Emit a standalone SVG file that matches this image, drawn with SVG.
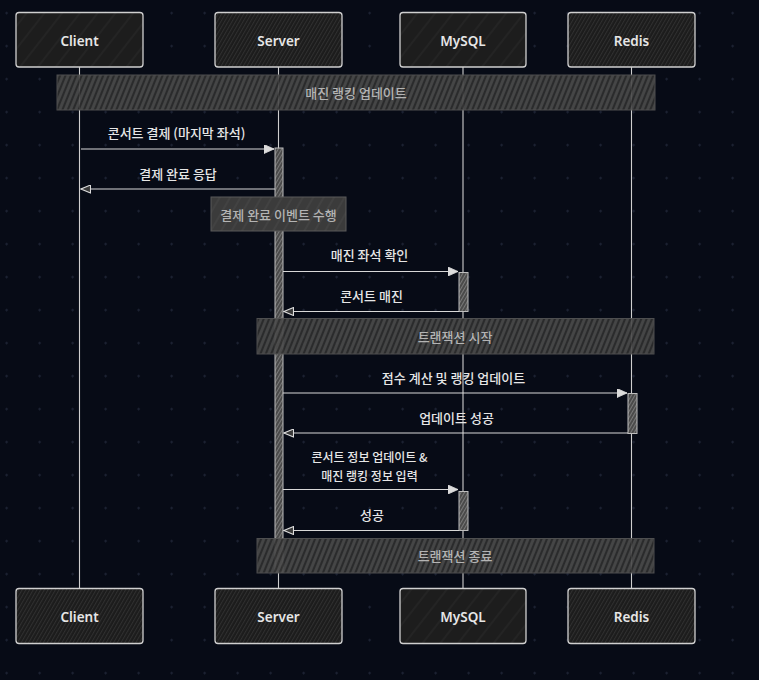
<svg xmlns="http://www.w3.org/2000/svg" width="759" height="680" viewBox="0 0 759 680">
<style>
.actor rect{stroke:#d0d0d0;stroke-width:1.3}
.actor text{font-family:"Noto Sans","Liberation Sans",sans-serif;font-size:13.5px;font-weight:600;fill:#e6e6e6;text-anchor:middle;dominant-baseline:central}
.life{stroke:#cfcfcf;stroke-width:1.1}
.msg{stroke:#d8d8d8;stroke-width:1.2;fill:none}
.mt{font-family:"Noto Sans CJK KR","Noto Sans",sans-serif;font-size:13px;font-weight:500;fill:#e6e6e6;text-anchor:middle;dominant-baseline:central}
.nt{font-family:"Noto Sans CJK KR","Noto Sans",sans-serif;font-size:13px;font-weight:500;fill:#b4b4b4;text-anchor:middle;dominant-baseline:central}
.act{fill:url(#hatchAct);stroke:#bdbdbd;stroke-width:1}
.note{fill:url(#hatchNote);stroke:#555;stroke-width:1;opacity:0.92}
</style>
<defs>
<pattern id="dots" width="33" height="33" patternUnits="userSpaceOnUse" x="-10" y="-3">
<rect x="15.5" y="15" width="2.2" height="2.2" fill="#1b2131" transform="rotate(45 16.6 16.1)"/>
</pattern>
<pattern id="hatchDense" width="3.2" height="10" patternUnits="userSpaceOnUse" patternTransform="rotate(30)">
<rect width="3.2" height="10" fill="#1c1c1c"/>
<line x1="0.5" y1="0" x2="0.5" y2="10" stroke="#303030" stroke-width="1"/>
</pattern>
<pattern id="hatchSparse" width="14" height="10" patternUnits="userSpaceOnUse" patternTransform="rotate(38)">
<rect width="14" height="10" fill="#1d1d1d"/>
<line x1="1" y1="0" x2="1" y2="10" stroke="#2a2a2a" stroke-width="1"/>
</pattern>
<pattern id="hatchNote" width="5" height="10" patternUnits="userSpaceOnUse" patternTransform="rotate(22)">
<rect width="5" height="10" fill="#2e2e2e"/>
<line x1="1.5" y1="0" x2="1.5" y2="10" stroke="#4c4c4c" stroke-width="2.8"/>
</pattern>
<pattern id="hatchNote2" width="9" height="10" patternUnits="userSpaceOnUse" patternTransform="rotate(30)">
<rect width="9" height="10" fill="#3b3b3b"/>
<line x1="1" y1="0" x2="1" y2="10" stroke="#474747" stroke-width="1.2"/>
</pattern>
<pattern id="hatchAct" width="3" height="3" patternUnits="userSpaceOnUse" patternTransform="rotate(30)">
<rect width="3" height="3" fill="#4a4a4a"/>
<line x1="0.5" y1="0" x2="0.5" y2="3" stroke="#7a7a7a" stroke-width="1"/>
</pattern>
<marker id="arrFill" markerWidth="11" markerHeight="9" refX="10" refY="4.5" orient="auto" markerUnits="userSpaceOnUse">
<path d="M0,0 L10,4.5 L0,9 Z" fill="#dcdcdc" stroke="#dcdcdc" stroke-width="0.8"/>
</marker>
<marker id="arrOpen" markerWidth="11" markerHeight="9" refX="10" refY="4.5" orient="auto" markerUnits="userSpaceOnUse">
<path d="M0.5,0.5 L10,4.5 L0.5,8.5 Z" fill="#3a3a3a" stroke="#dcdcdc" stroke-width="1.1"/>
</marker>
</defs>
<rect width="759" height="680" fill="#070b16"/>
<rect width="759" height="680" fill="url(#dots)"/>

<g id="lifelines">
<line class="life" x1="79.5" y1="67" x2="79.5" y2="588"/>
<line class="life" x1="278.5" y1="67" x2="278.5" y2="588"/>
<line class="life" x1="463" y1="67" x2="463" y2="588"/>
<line class="life" x1="631.5" y1="67" x2="631.5" y2="588"/>
</g>

<g id="activations">
<rect class="act" x="275" y="148" width="8" height="424"/>
<rect class="act" x="459" y="272.5" width="9" height="39"/>
<rect class="act" x="628" y="393.5" width="9" height="40"/>
<rect class="act" x="459" y="491.5" width="9" height="39"/>
</g>

<g id="note-ranking">
<rect class="note" x="57" y="75" width="598" height="35"/>
<text class="nt" x="356" y="92.5">매진 랭킹 업데이트</text>
</g>
<g id="note-event">
<rect x="211" y="197" width="135" height="34" fill="url(#hatchNote2)" stroke="#5a5a5a" stroke-width="1"/>
<text class="nt" x="278.5" y="214">결제 완료 이벤트 수행</text>
</g>
<g id="note-tx-start">
<rect class="note" x="257" y="318.5" width="397" height="35.5"/>
<text class="nt" x="455" y="336.5">트랜잭션 시작</text>
</g>
<g id="note-tx-end">
<rect class="note" x="257" y="538.5" width="397" height="34.5"/>
<text class="nt" x="455" y="555.5">트랜잭션 종료</text>
</g>

<g id="connectors">
<line class="msg" x1="81" y1="149" x2="274" y2="149" marker-end="url(#arrFill)"/>
<text class="mt" x="176.5" y="132">콘서트 결제 (마지막 좌석)</text>
<line class="msg" x1="275" y1="189" x2="81" y2="189" marker-end="url(#arrOpen)"/>
<text class="mt" x="178" y="173.5">결제 완료 응답</text>
<line class="msg" x1="283" y1="271.5" x2="458" y2="271.5" marker-end="url(#arrFill)"/>
<text class="mt" x="369.5" y="254.5">매진 좌석 확인</text>
<line class="msg" x1="459" y1="311.5" x2="284" y2="311.5" marker-end="url(#arrOpen)"/>
<text class="mt" x="371.5" y="295.5">콘서트 매진</text>
<line class="msg" x1="283" y1="393" x2="627" y2="393" marker-end="url(#arrFill)"/>
<text class="mt" x="453.5" y="377.5">점수 계산 및 랭킹 업데이트</text>
<line class="msg" x1="628" y1="433" x2="284" y2="433" marker-end="url(#arrOpen)"/>
<text class="mt" x="456.5" y="417.5">업데이트 성공</text>
<line class="msg" x1="283" y1="489.5" x2="458" y2="489.5" marker-end="url(#arrFill)"/>
<text class="mt" x="369.5" y="456.5" style="font-size:12px">콘서트 정보 업데이트 &amp;</text>
<text class="mt" x="369.5" y="475" style="font-size:12px">매진 랭킹 정보 입력</text>
<line class="msg" x1="459" y1="530.5" x2="284" y2="530.5" marker-end="url(#arrOpen)"/>
<text class="mt" x="372" y="514.5">성공</text>
</g>

<g id="actor-client-top" class="actor">
<rect x="16" y="12.5" width="127" height="54.5" rx="3" fill="url(#hatchSparse)"/>
<text x="79.5" y="41">Client</text>
</g>
<g id="actor-server-top" class="actor">
<rect x="215" y="12.5" width="127" height="54.5" rx="3" fill="url(#hatchDense)"/>
<text x="278.5" y="41">Server</text>
</g>
<g id="actor-mysql-top" class="actor">
<rect x="400" y="12.5" width="126" height="54.5" rx="3" fill="url(#hatchSparse)"/>
<text x="463" y="41">MySQL</text>
</g>
<g id="actor-redis-top" class="actor">
<rect x="568" y="12.5" width="127" height="54.5" rx="3" fill="url(#hatchDense)"/>
<text x="631.5" y="41">Redis</text>
</g>
<g id="actor-client-bottom" class="actor">
<rect x="16" y="588.5" width="127" height="55" rx="3" fill="url(#hatchDense)"/>
<text x="79.5" y="617">Client</text>
</g>
<g id="actor-server-bottom" class="actor">
<rect x="215" y="588.5" width="127" height="55" rx="3" fill="url(#hatchDense)"/>
<text x="278.5" y="617">Server</text>
</g>
<g id="actor-mysql-bottom" class="actor">
<rect x="400" y="588.5" width="126" height="55" rx="3" fill="url(#hatchSparse)"/>
<text x="463" y="617">MySQL</text>
</g>
<g id="actor-redis-bottom" class="actor">
<rect x="568" y="588.5" width="127" height="55" rx="3" fill="url(#hatchDense)"/>
<text x="631.5" y="617">Redis</text>
</g>
</svg>
